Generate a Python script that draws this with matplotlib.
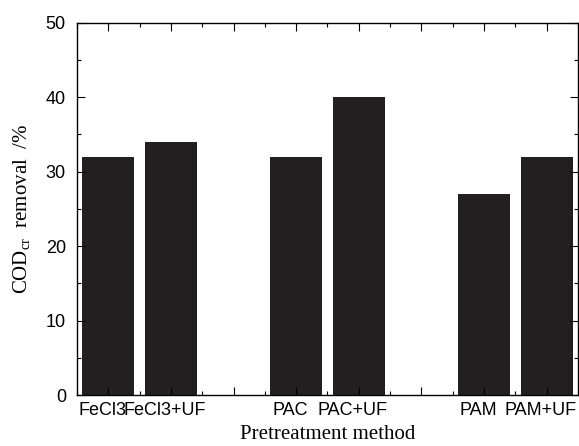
import matplotlib.pyplot as plt
import matplotlib.transforms as mtransforms
from matplotlib.ticker import MultipleLocator

# data
methods = ["FeCl3", "FeCl3+UF", "PAC", "PAC+UF", "PAM", "PAM+UF"]
positions = [1, 2, 4, 5, 7, 8]
removal = [32, 34, 32, 40, 27, 32]

tick_pos = [1, 2, 3, 4, 5, 6, 7, 8]
tick_labels = ["FeCl3", "FeCl3+UF", "", "PAC", "PAC+UF", "", "PAM", "PAM+UF"]

plt.rcParams["font.family"] = ["Liberation Sans", "DejaVu Sans"]
plt.rcParams["mathtext.fontset"] = "custom"
plt.rcParams["mathtext.rm"] = "Liberation Serif"

fig = plt.figure(figsize=(5.79, 4.46), dpi=100)
ax = fig.add_axes([0.133, 0.114, 0.865, 0.835])

ax.bar(positions, removal, width=0.83, color="#231f20")

ax.set_xlim(0.5, 8.5)
ax.set_ylim(0, 50)
ax.set_xticks(tick_pos)
ax.set_xticklabels(tick_labels, fontsize=13)
ax.xaxis.set_minor_locator(MultipleLocator(0.5))
ax.yaxis.set_major_locator(MultipleLocator(10))
ax.yaxis.set_minor_locator(MultipleLocator(5))
ax.tick_params(axis="both", which="both", direction="in", top=True, right=True,
               labelsize=13, width=0.8)
ax.tick_params(which="major", length=6)
ax.tick_params(which="minor", length=3)
ax.tick_params(axis="y", which="major", pad=8)
ax.tick_params(axis="x", which="major", pad=5)
for s in ax.spines.values():
    s.set_linewidth(1.0)

# labels sit a little left of their ticks, so the last one fits
shift = mtransforms.ScaledTranslation(-6 / 100, 0, fig.dpi_scale_trans)
for lab in ax.get_xticklabels():
    lab.set_transform(lab.get_transform() + shift)

serif = ["Liberation Serif", "DejaVu Serif"]
ax.set_xlabel("Pretreatment method", fontsize=15, family=serif, labelpad=4)
ax.set_ylabel(r"COD$_{\mathrm{cr}}$  removal  /%", fontsize=15, family=serif, labelpad=9)

fig.savefig("out.png", dpi=100)
